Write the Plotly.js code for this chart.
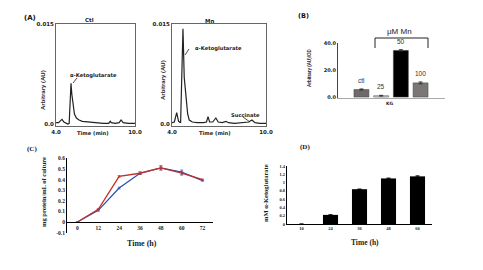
<!DOCTYPE html>
<html>
<head>
<meta charset="utf-8">
<script src="https://cdn.plot.ly/plotly-3.0.1.min.js"></script>
<style>html,body{margin:0;padding:0;background:#fff;}#chart{width:483px;height:270px;}</style>
</head>
<body>
<div id="chart"></div>
<script>
// ---------- DATA ----------
// Panel A: chromatograms (time in min, signal in AU)
var ctlTime   = [4.0, 4.2, 4.35, 4.46, 4.6, 4.75, 4.9, 5.0, 5.07, 5.14, 5.2, 5.3, 5.4, 5.55, 5.75, 6.0, 6.4, 6.8, 7.2, 7.6, 8.0, 8.12, 8.2, 8.5, 8.8, 8.94, 9.1, 9.5, 10.0];
var ctlSignal = [0.0002, 0.0002, 0.0005, 0.0007, 0.0003, 0.0001, 0.0000, 0.0001, 0.0030, 0.0061, 0.0045, 0.0025, 0.0015, 0.0009, 0.0006, 0.0004, 0.0003, 0.0002, 0.0002, 0.0001, 0.0001, 0.0004, 0.0002, 0.0001, 0.0002, 0.0006, 0.0002, 0.0001, 0.0001];
var mnTime    = [4.0, 4.15, 4.3, 4.42, 4.55, 4.63, 4.70, 4.78, 4.85, 4.92, 5.0, 5.1, 5.3, 5.6, 6.0, 6.2, 6.3, 6.4, 6.6, 6.8, 6.95, 7.2, 7.45, 7.6, 8.0, 8.5, 8.9, 9.1, 9.3, 9.6, 10.0];
var mnSignal  = [0.0002, 0.0003, 0.0017, 0.0004, 0.0002, 0.0060, 0.0143, 0.0070, 0.0045, 0.0035, 0.0015, 0.0006, 0.0003, 0.0002, 0.0002, 0.0003, 0.0011, 0.0003, 0.0003, 0.0009, 0.0003, 0.0002, 0.0004, 0.0002, 0.0001, 0.0002, 0.0003, 0.0006, 0.0002, 0.0001, 0.0001];
var aTickVals = [4, 10];
var aTickText = ['4.0', '10.0'];
var aYTickVals = [0, 0.015];
var aYTickText = ['0.0', '0.015'];

// Panel B: KG signal per treatment
var bCats   = ['ctl', '25', '50', '100'];
var bValues = [5.6, 1.0, 34.5, 10.5];
var bErr    = [0.4, 0.3, 0.6, 0.7];
var bColors = ['#6e6a6a', '#d6d6d6', '#000000', '#7b7777'];
var bYTicks = [0, 20, 40];
var bYText  = ['0.0', '20.0', '40.0'];

// Panel C: growth curves
var cTime    = [0, 12, 24, 36, 48, 60, 72];
var cBlue    = [0, 0.11, 0.32, 0.46, 0.51, 0.47, 0.39];
var cBlueErr = [0, 0.008, 0.008, 0.012, 0.02, 0.02, 0.005];
var cRed     = [0, 0.12, 0.43, 0.46, 0.51, 0.46, 0.40];
var cRedErr  = [0, 0.008, 0.008, 0.012, 0.018, 0.018, 0.005];
var cYTicks  = [-0.1, 0, 0.1, 0.2, 0.3, 0.4, 0.5, 0.6];
var cYText   = ['-0.1', '0', '0.1', '0.2', '0.3', '0.4', '0.5', '0.6'];

// Panel D: alpha-ketoglutarate production
var dCats   = ['10', '24', '36', '48', '60'];
var dValues = [0, 0.22, 0.84, 1.10, 1.15];
var dErr    = [null, 0.005, 0.005, 0.01, 0.015];
var dYTicks = [0, 0.2, 0.4, 0.6, 0.8, 1, 1.2, 1.4];
var dYText  = ['0', '0.2', '0.4', '0.6', '0.8', '1', '1.2', '1.4'];

// ---------- LAYOUT HELPERS ----------
var W = 483, H = 270;
function PX(p){ return p / W; }
function PY(p){ return 1 - p / H; }

var sansB = {family: 'DejaVu Sans', size: 5.5, color: '#222', weight: 'bold'};
var serifB = {family: 'Liberation Serif', size: 5.5, color: '#222', weight: 'bold'};

var traces = [
  {x: ctlTime, y: ctlSignal, xaxis: 'x', yaxis: 'y', type: 'scatter', mode: 'lines',
   line: {color: '#222', width: 1.2}, hoverinfo: 'skip'},
  {x: mnTime, y: mnSignal, xaxis: 'x2', yaxis: 'y2', type: 'scatter', mode: 'lines',
   line: {color: '#222', width: 1.2}, hoverinfo: 'skip'},
  {x: bCats, y: bValues, xaxis: 'x3', yaxis: 'y3', type: 'bar', width: 0.76,
   marker: {color: bColors, line: {color: '#444', width: 0.5}},
   error_y: {type: 'data', array: bErr, color: '#222', thickness: 0.8, width: 2}},
  {x: cTime, y: cBlue, xaxis: 'x4', yaxis: 'y4', type: 'scatter', mode: 'lines',
   line: {color: '#2b4fb5', width: 1.3},
   error_y: {type: 'data', array: cBlueErr, color: '#2b4fb5', thickness: 0.7, width: 1.5}},
  {x: cTime, y: cRed, xaxis: 'x4', yaxis: 'y4', type: 'scatter', mode: 'lines',
   line: {color: '#c0302a', width: 1.3},
   error_y: {type: 'data', array: cRedErr, color: '#c0302a', thickness: 0.7, width: 1.5}},
  {x: dCats, y: dValues, xaxis: 'x5', yaxis: 'y5', type: 'bar', width: 0.52,
   marker: {color: '#000'},
   error_y: {type: 'data', array: dErr, color: '#000', thickness: 0.8, width: 2}}
];

var boxAxis = {showline: true, mirror: true, linecolor: '#666', linewidth: 1, showgrid: false, zeroline: false, ticks: ''};

var layout = {
  width: W, height: H, margin: {l: 0, r: 0, t: 0, b: 0},
  paper_bgcolor: '#fff', plot_bgcolor: 'rgba(0,0,0,0)', showlegend: false,
  xaxis: Object.assign({}, boxAxis, {domain: [PX(56), PX(135)], anchor: 'y', range: [4, 10],
     tickmode: 'array', tickvals: aTickVals, ticktext: aTickText, tickfont: sansB}),
  yaxis: Object.assign({}, boxAxis, {domain: [PY(126), PY(24)], anchor: 'x', range: [-0.0003, 0.015],
     tickmode: 'array', tickvals: aYTickVals, ticktext: aYTickText, tickfont: sansB}),
  xaxis2: Object.assign({}, boxAxis, {domain: [PX(172), PX(266)], anchor: 'y2', range: [4, 10],
     tickmode: 'array', tickvals: aTickVals, ticktext: aTickText, tickfont: sansB}),
  yaxis2: Object.assign({}, boxAxis, {domain: [PY(126), PY(24)], anchor: 'x2', range: [-0.0003, 0.015],
     tickmode: 'array', tickvals: aYTickVals, ticktext: aYTickText, tickfont: sansB}),
  xaxis3: {domain: [PX(338), PX(445)], anchor: 'y3', type: 'category', categoryorder: 'array', categoryarray: bCats,
     range: [-1.19, 4.24], showticklabels: false, showline: true, linecolor: '#aaa', linewidth: 1, showgrid: false, ticks: ''},
  yaxis3: {domain: [PY(98), PY(43)], anchor: 'x3', range: [-0.7, 40], showline: true, linecolor: '#444', linewidth: 1,
     showgrid: false, zeroline: false, ticks: '', tickmode: 'array', tickvals: bYTicks, ticktext: bYText,
     tickfont: {family: 'DejaVu Sans', size: 5, color: '#222', weight: 'bold'}},
  xaxis4: {domain: [PX(67), PX(213)], anchor: 'free', position: PY(222), range: [-6, 78],
     tickmode: 'array', tickvals: cTime, showline: true, linecolor: '#000', linewidth: 1, showgrid: false, zeroline: false,
     ticks: '', tickfont: serifB},
  yaxis4: {domain: [PY(232.6), PY(158.4)], anchor: 'x4', range: [-0.1, 0.6], showline: true, linecolor: '#000', linewidth: 1,
     showgrid: false, zeroline: false, ticks: '', tickmode: 'array', tickvals: cYTicks, ticktext: cYText, tickfont: serifB},
  xaxis5: {domain: [PX(287), PX(432)], anchor: 'y5', type: 'category', categoryorder: 'array', categoryarray: dCats,
     range: [-0.5, 4.5], showline: true, linecolor: '#000', linewidth: 1, showgrid: false, ticks: '',
     tickfont: {family: 'Liberation Serif', size: 4.5, color: '#222', weight: 'bold'}},
  yaxis5: {domain: [PY(224), PY(166)], anchor: 'x5', range: [0, 1.4], showline: true, linecolor: '#000', linewidth: 1,
     showgrid: false, zeroline: false, ticks: '', tickmode: 'array', tickvals: dYTicks, ticktext: dYText,
     tickfont: {family: 'Liberation Serif', size: 4.5, color: '#222', weight: 'bold'}},
  shapes: [
    // leader lines for peak labels (A)
    {type: 'line', xref: 'paper', yref: 'paper', x0: PX(77), y0: PY(78), x1: PX(73), y1: PY(83), line: {color: '#222', width: 0.8}},
    {type: 'line', xref: 'paper', yref: 'paper', x0: PX(189), y0: PY(49), x1: PX(185), y1: PY(55), line: {color: '#222', width: 0.8}},
    {type: 'line', xref: 'paper', yref: 'paper', x0: PX(243), y0: PY(117), x1: PX(250), y1: PY(122), line: {color: '#222', width: 0.8}},
    // bracket (B)
    {type: 'line', xref: 'paper', yref: 'paper', x0: PX(375), y0: PY(38), x1: PX(428), y1: PY(38), line: {color: '#222', width: 1}},
    {type: 'line', xref: 'paper', yref: 'paper', x0: PX(375), y0: PY(38), x1: PX(375), y1: PY(48), line: {color: '#222', width: 1}},
    {type: 'line', xref: 'paper', yref: 'paper', x0: PX(428), y0: PY(38), x1: PX(428), y1: PY(48), line: {color: '#222', width: 1}}
  ],
  annotations: []
};

function ann(text, x, y, font, angle){
  layout.annotations.push({text: text, xref: 'paper', yref: 'paper', x: PX(x), y: PY(y),
    xanchor: 'center', yanchor: 'middle', showarrow: false, font: font, textangle: angle || 0});
}
var labA = {family: 'DejaVu Sans', size: 7, color: '#111', weight: 'bold'};
ann('(A)', 30, 18, labA);
ann('Ctl', 89, 20, {family: 'DejaVu Sans', size: 5.5, color: '#222', weight: 'bold'});
ann('Mn', 209, 21, {family: 'DejaVu Sans', size: 5.5, color: '#222', weight: 'bold'});
ann('α-Ketoglutarate', 93, 75, {family: 'DejaVu Sans', size: 5.2, color: '#222', weight: 'bold'});
ann('α-Ketoglutarate', 218, 48, {family: 'DejaVu Sans', size: 5.2, color: '#222', weight: 'bold'});
ann('Succinate', 245, 115, {family: 'DejaVu Sans', size: 5.2, color: '#222', weight: 'bold'});
ann('Arbitrary (AU)', 43, 90, {family: 'Liberation Sans', size: 6, color: '#222', weight: 'bold'}, -90);
ann('Arbitrary (AU)', 163, 80, {family: 'Liberation Sans', size: 6, color: '#222', weight: 'bold'}, -90);
ann('Time (min)', 93, 133, {family: 'DejaVu Sans', size: 5.2, color: '#222', weight: 'bold'});
ann('Time (min)', 215, 133, {family: 'DejaVu Sans', size: 5.2, color: '#222', weight: 'bold'});

ann('(B)', 303, 16, {family: 'DejaVu Sans', size: 6.5, color: '#111', weight: 'bold'});
ann('μM Mn', 399, 32, {family: 'Liberation Sans', size: 8, color: '#222'});
ann('Arbitrary (AU)/OD', 310, 68, {family: 'Liberation Sans', size: 4.5, color: '#222', weight: 'bold'}, -90);
ann('KG', 389, 103, {family: 'DejaVu Sans', size: 4.5, color: '#222', weight: 'bold'});
for (var i = 0; i < bCats.length; i++) {
  layout.annotations.push({text: bCats[i], xref: 'x3', yref: 'y3', x: i, y: bValues[i] + bErr[i],
    xanchor: 'center', yanchor: 'bottom', yshift: 3, showarrow: false,
    font: {family: 'Liberation Sans', size: 6.5, color: '#333'}});
}

ann('(C)', 32, 149, {family: 'Liberation Serif', size: 7, color: '#111', weight: 'bold'});
ann('mg protein/mL of culture', 43, 192, {family: 'Liberation Serif', size: 6.5, color: '#222', weight: 'bold'}, -90);
ann('Time (h)', 142, 243, {family: 'Liberation Serif', size: 8, color: '#222', weight: 'bold'});

ann('(D)', 305, 147, {family: 'Liberation Serif', size: 7, color: '#111', weight: 'bold'});
ann('mM α-Ketoglutarate', 265, 193, {family: 'Liberation Serif', size: 6.5, color: '#222', weight: 'bold'}, -90);
ann('Time (h)', 365, 242, {family: 'Liberation Serif', size: 7.5, color: '#222', weight: 'bold'});

Plotly.newPlot('chart', traces, layout, {staticPlot: true, displayModeBar: false});
</script>
</body>
</html>
